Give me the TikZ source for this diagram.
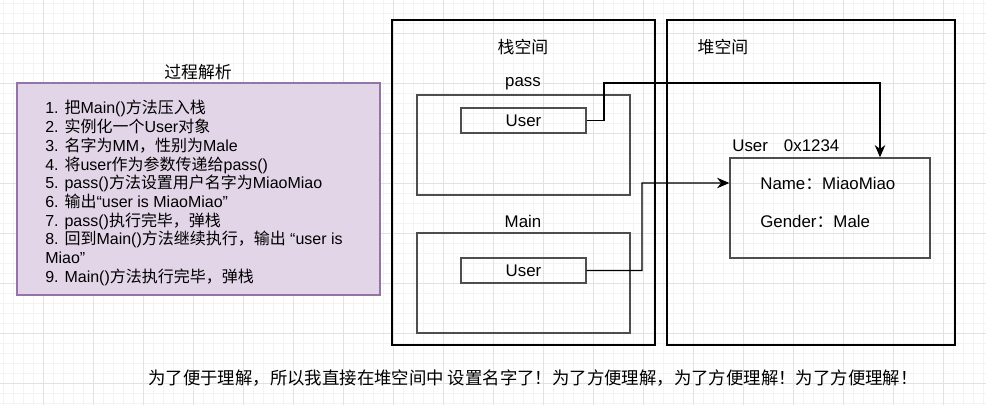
\documentclass[tikz,border=0pt]{standalone}
\usepackage{fontspec}
\setmainfont{Liberation Sans}
\newfontfamily\cjk{Noto Sans CJK SC}
\newcommand\zh[1]{{\cjk #1}}
\usetikzlibrary{arrows.meta}
\definecolor{notefill}{HTML}{E1D5E7}
\definecolor{notedraw}{HTML}{9673A6}
\definecolor{gridminor}{HTML}{F3F3F3}
\definecolor{gridmajor}{HTML}{E2E2E2}
\definecolor{boxgray}{HTML}{4D4D4D}
\tikzset{
  space/.style={draw=black, line width=0.8pt, minimum width=#1, minimum height=6.5cm, inner sep=0},
  frame/.style={draw=boxgray, line width=0.8pt, minimum width=4.26cm, minimum height=2cm, inner sep=0},
  ref/.style={draw=boxgray, line width=0.8pt, minimum width=2.5cm, minimum height=0.5cm, inner sep=0},
  link/.style={line width=0.6pt, -{Stealth[length=7pt,width=6pt]}},
  big/.style={font=\fontsize{9.6}{11}\selectfont}
}

\begin{document}
\begin{tikzpicture}[x=0.02cm, y=-0.02cm, big]
\useasboundingbox (0,0) rectangle (986,405);
\foreach \g in {3,13,...,983} \draw[gridminor, line width=0.3pt] (\g,0) -- (\g,405);
\foreach \g in {3,13,...,403} \draw[gridminor, line width=0.3pt] (0,\g) -- (986,\g);
\foreach \g in {43,93,...,943} \draw[gridmajor, line width=0.5pt] (\g,0) -- (\g,405);
\foreach \g in {33,83,...,383} \draw[gridmajor, line width=0.5pt] (0,\g) -- (986,\g);

\node[draw=notedraw, fill=notefill, line width=0.8pt, minimum width=7.26cm, minimum height=4.24cm, inner sep=0] (steps) at (198.5,189) {};
\node (stepstitle) at (198,72) {\zh{过程解析}};
\node[anchor=north west, align=left, inner sep=0, font=\fontsize{9.1}{10.66}\selectfont] (stepslist) at (45,100) {%
1. \zh{把}Main()\zh{方法压入栈}\\
2. \zh{实例化一个}User\zh{对象}\\
3. \zh{名字为}MM\zh{，性别为}Male\\
4. \zh{将}user\zh{作为参数传递给}pass()\\
5. pass()\zh{方法设置用户名字为}MiaoMiao\\
6. \zh{输出}“user is MiaoMiao”\\
7. pass()\zh{执行完毕，弹栈}\\
8. \zh{回到}Main()\zh{方法继续执行，输出} “user is\\
Miao”\\
9. Main()\zh{方法执行完毕，弹栈}};

\node[space=5.26cm] (stack) at (523.5,182.5) {};
\node[space=5.76cm] (heap) at (811,182.5) {};
\node (stacktitle) at (523,47) {\zh{栈空间}};
\node (heaptitle) at (723,47) {\zh{堆空间}};

\node[frame] (passframe) at (523.5,145) {};
\node (passlabel) at (523,84) {pass};
\node[ref] (passuser) at (523.5,120.5) {User};
\node[frame] (mainframe) at (523.5,283) {};
\node (mainlabel) at (523,221) {Main};
\node[ref] (mainuser) at (523.5,270.5) {User};

\node[draw=boxgray, line width=0.8pt, minimum width=4cm, minimum height=2cm, inner sep=0] (obj) at (830,208) {};
\node[anchor=west, inner sep=0] (objlabel) at (732,146) {User\hspace{0.95em}0x1234};
\node[anchor=west, inner sep=0] (objname) at (760,183) {Name\zh{：}MiaoMiao};
\node[anchor=west, inner sep=0] (objgender) at (760,221) {Gender\zh{：}Male};

\draw[link] (passuser.east) -| (604,83) -| ([xshift=1cm]obj.north);
\draw[link] (mainuser.east) -| (642,183) -- ([yshift=0.5cm]obj.west);

\node[font=\fontsize{9.9}{11}\selectfont] (note) at (533,378) {\zh{为了便于理解，所以我直接在堆空间中 设置名字了！为了方便理解，为了方便理解！为了方便理解！}};
\end{tikzpicture}
\end{document}
